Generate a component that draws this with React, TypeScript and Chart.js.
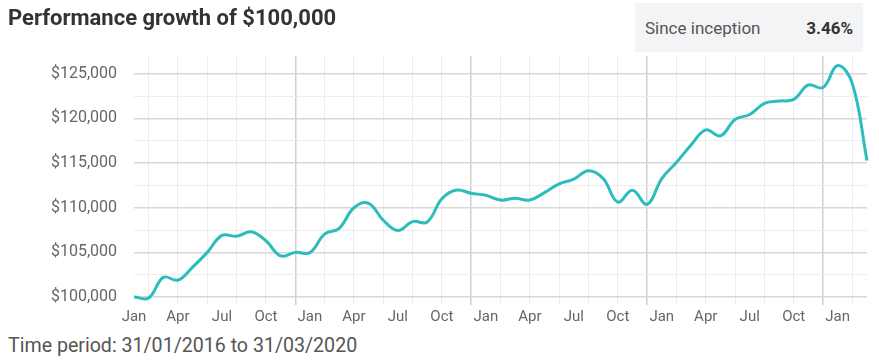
import React, { useEffect, useRef } from 'react';
import { Chart, registerables } from 'chart.js';

Chart.register(...registerables);

const titleText = 'Performance growth of $100,000';
const badgeLabel = 'Since inception';
const badgeValue = '3.46%';
const footerText = 'Time period: 31/01/2016 to 31/03/2020';

const categories = [
  'Jan 2016', 'Feb 2016', 'Mar 2016', 'Apr 2016', 'May 2016', 'Jun 2016', 'Jul 2016', 'Aug 2016', 'Sep 2016', 'Oct 2016', 'Nov 2016', 'Dec 2016',
  'Jan 2017', 'Feb 2017', 'Mar 2017', 'Apr 2017', 'May 2017', 'Jun 2017', 'Jul 2017', 'Aug 2017', 'Sep 2017', 'Oct 2017', 'Nov 2017', 'Dec 2017',
  'Jan 2018', 'Feb 2018', 'Mar 2018', 'Apr 2018', 'May 2018', 'Jun 2018', 'Jul 2018', 'Aug 2018', 'Sep 2018', 'Oct 2018', 'Nov 2018', 'Dec 2018',
  'Jan 2019', 'Feb 2019', 'Mar 2019', 'Apr 2019', 'May 2019', 'Jun 2019', 'Jul 2019', 'Aug 2019', 'Sep 2019', 'Oct 2019', 'Nov 2019', 'Dec 2019',
  'Jan 2020', 'Feb 2020', 'Mar 2020',
];

const portfolioValues = [
  100000, 99900, 102200, 101900, 103350, 105000, 106900, 106800, 107300, 106300, 104600, 105000,
  104970, 107050, 107700, 110000, 110500, 108600, 107450, 108450, 108400, 111000, 111980, 111620,
  111390, 110860, 111050, 110860, 111690, 112670, 113200, 114140, 113270, 110640, 111950, 110380,
  113270, 115080, 117030, 118720, 118050, 119890, 120450, 121690, 121950, 122140, 123760, 123460,
  125940, 123900, 115300,
];

const yTickValues = [100000, 102500, 105000, 107500, 110000, 112500, 115000, 117500, 120000, 122500, 125000];
const yMin = 100000;
const yMax = 127000;

const FONT = 'Roboto, "Noto Sans", sans-serif';

export default function App() {
  const canvasRef = useRef<HTMLCanvasElement>(null);

  useEffect(() => {
    if (!canvasRef.current) return;
    Chart.defaults.font.family = FONT;
    const vColor = (i: number) => {
      if (i % 2 !== 1) return 'rgba(0,0,0,0)';
      return categories[i].startsWith('Dec') ? '#d0d0d0' : '#ececec';
    };
    const chart = new Chart(canvasRef.current, {
      type: 'line',
      data: {
        labels: categories,
        datasets: [
          {
            data: portfolioValues,
            borderColor: '#2cbcbe',
            borderWidth: 3,
            pointRadius: 0,
            tension: 0.4,
            fill: false,
            clip: 6,
          },
        ],
      },
      options: {
        animation: false,
        responsive: false,
        maintainAspectRatio: false,
        layout: { padding: { top: 56, right: 12, left: 0, bottom: 0 } },
        plugins: { legend: { display: false }, tooltip: { enabled: false } },
        scales: {
          x: {
            type: 'category',
            border: { display: false },
            grid: {
              color: (c: any) => vColor(c.index),
              tickColor: (c: any) => vColor(c.index),
              lineWidth: (c: any) => (categories[c.index] && categories[c.index].startsWith('Dec') ? 1.5 : 1),
              tickLength: 8,
            },
            ticks: {
              autoSkip: false,
              maxRotation: 0,
              minRotation: 0,
              padding: 3,
              color: '#666',
              font: { size: 15 },
              callback: (_v: any, i: number) => (i % 3 === 0 ? categories[i].slice(0, 3) : ''),
            },
            afterFit: (s: any) => {
              s.height = 33;
            },
          },
          y: {
            min: yMin,
            max: yMax,
            border: { display: false },
            afterBuildTicks: (s: any) => {
              s.ticks = yTickValues.map((v) => ({ value: v }));
            },
            grid: {
              color: (c: any) => (c.tick && c.tick.value % 5000 === 0 ? '#d8d8d8' : '#ededed'),
              lineWidth: (c: any) => (c.tick && c.tick.value % 5000 === 0 ? 1.5 : 1),
              drawTicks: false,
            },
            ticks: {
              padding: 17,
              color: '#666',
              font: { size: 16 },
              callback: (v: any) => (Number(v) % 5000 === 0 ? '$' + Number(v).toLocaleString('en-US') : ''),
            },
            afterFit: (s: any) => {
              s.width = 134;
            },
          },
        },
      },
    });
    return () => chart.destroy();
  }, []);

  return (
    <div style={{ position: 'fixed', left: 0, top: 0, width: 879, height: 361, background: '#fff', fontFamily: FONT, overflow: 'hidden' }}>
      <canvas ref={canvasRef} width={879} height={330} style={{ position: 'absolute', left: 0, top: 0, width: 879, height: 330, display: 'block' }} />
      <div style={{ position: 'absolute', left: 8, top: 5, fontSize: 22, fontWeight: 700, color: '#333', whiteSpace: 'nowrap', lineHeight: 'normal' }}>
        {titleText}
      </div>
      <div
        style={{
          position: 'absolute',
          left: 635,
          top: 3,
          width: 228,
          height: 49,
          background: '#f3f4f6',
          display: 'flex',
          alignItems: 'center',
          justifyContent: 'space-between',
          padding: '0 10px 0 10px',
          boxSizing: 'border-box',
        }}
      >
        <span style={{ fontSize: 17, color: '#555' }}>{badgeLabel}</span>
        <span style={{ fontSize: 17, fontWeight: 700, color: '#333' }}>{badgeValue}</span>
      </div>
      <div style={{ position: 'absolute', left: 8, top: 334, fontSize: 19.6, color: '#555', whiteSpace: 'nowrap', lineHeight: '24px' }}>
        {footerText}
      </div>
    </div>
  );
}
